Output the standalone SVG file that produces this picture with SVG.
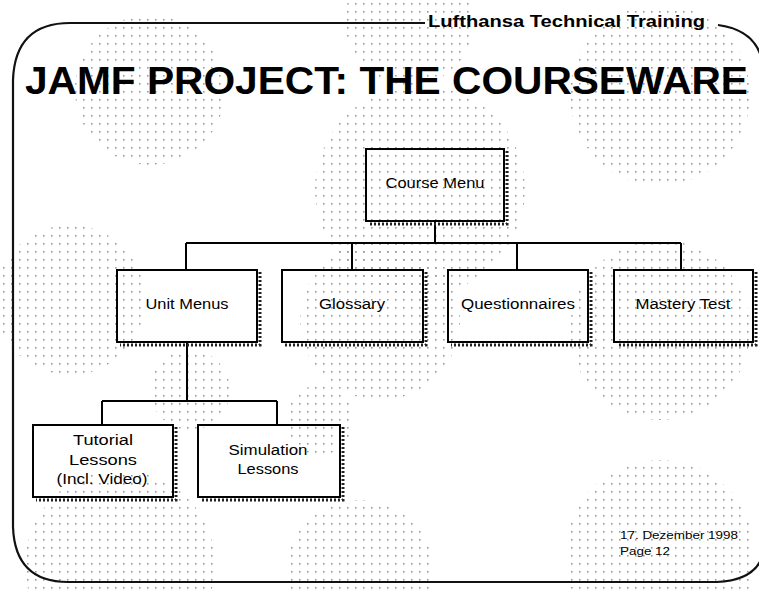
<svg xmlns="http://www.w3.org/2000/svg" width="759" height="594" viewBox="0 0 759 594">
<defs>
<pattern id="dots" x="0" y="0" width="8" height="8" patternUnits="userSpaceOnUse">
<rect x="3" y="3" width="1.6" height="1.6" fill="#999"/>
</pattern>
</defs>
<style>
.box{fill:none;stroke:#000;stroke-width:2}
.shadow{fill:none;stroke:#222;stroke-width:3;stroke-dasharray:2 2}
.lbl{font-family:"Liberation Sans",Arial,sans-serif;font-size:14px;fill:#000;text-anchor:middle}
.conn{fill:none;stroke:#000;stroke-width:2}
.frame{fill:none;stroke:#111;stroke-width:2.2}
</style>
<rect width="759" height="594" fill="#fff"/>
<g id="halftone">
<circle cx="150" cy="90" r="75" fill="url(#dots)"/>
<circle cx="410" cy="20" r="65" fill="url(#dots)"/>
<circle cx="660" cy="95" r="90" fill="url(#dots)"/>
<circle cx="420" cy="190" r="105" fill="url(#dots)"/>
<circle cx="70" cy="300" r="75" fill="url(#dots)"/>
<circle cx="380" cy="320" r="80" fill="url(#dots)"/>
<circle cx="660" cy="330" r="90" fill="url(#dots)"/>
<circle cx="120" cy="565" r="95" fill="url(#dots)"/>
<circle cx="360" cy="575" r="75" fill="url(#dots)"/>
<circle cx="660" cy="555" r="95" fill="url(#dots)"/>
<circle cx="190" cy="390" r="40" fill="url(#dots)"/>
<circle cx="320" cy="420" r="35" fill="url(#dots)"/>
</g>
<g id="frame">
<path class="frame" d="M 425 23 L 70 23 Q 15 23 13 80 L 13 527 Q 15 582 68 582 L 717 582 Q 765 580 765 540"/>
<path class="frame" d="M 718 25 Q 755 30 762 60"/>
<text x="428" y="27" font-family="'Liberation Sans',Arial,sans-serif" font-weight="bold" font-size="16" textLength="277" lengthAdjust="spacingAndGlyphs">Lufthansa Technical Training</text>
</g>
<g id="title">
<text x="25" y="94" font-family="'Liberation Sans',Arial,sans-serif" font-weight="bold" font-size="39" textLength="723" lengthAdjust="spacingAndGlyphs">JAMF PROJECT: THE COURSEWARE</text>
</g>
<g id="connectors">
<path class="conn" d="M 435 221 L 435 243 M 186 243 L 681 243 M 186 243 L 186 270 M 352 243 L 352 270 M 517 243 L 517 270 M 681 243 L 681 270"/>
<path class="conn" d="M 187 342 L 187 401 M 102 401 L 277 401 M 102 401 L 102 425 M 277 401 L 277 425"/>
</g>
<g id="course-menu">
<path class="shadow" d="M 507 151 L 507 224 L 370 224"/>
<rect class="box" x="366" y="149" width="138" height="72"/>
<text class="lbl" x="435" y="188" textLength="99" lengthAdjust="spacingAndGlyphs">Course Menu</text>
</g>
<g id="unit-menus">
<path class="shadow" d="M 260 272 L 260 345 L 120 345"/>
<rect class="box" x="117" y="270" width="140" height="72"/>
<text class="lbl" x="187" y="309" textLength="83" lengthAdjust="spacingAndGlyphs">Unit Menus</text>
</g>
<g id="glossary">
<path class="shadow" d="M 426 272 L 426 345 L 285 345"/>
<rect class="box" x="282" y="270" width="141" height="72"/>
<text class="lbl" x="352" y="309" textLength="66" lengthAdjust="spacingAndGlyphs">Glossary</text>
</g>
<g id="questionnaires">
<path class="shadow" d="M 591 272 L 591 345 L 451 345"/>
<rect class="box" x="448" y="270" width="140" height="72"/>
<text class="lbl" x="518" y="309" textLength="114" lengthAdjust="spacingAndGlyphs">Questionnaires</text>
</g>
<g id="mastery-test">
<path class="shadow" d="M 756 272 L 756 345 L 617 345"/>
<rect class="box" x="614" y="270" width="139" height="72"/>
<text class="lbl" x="683" y="309" textLength="95" lengthAdjust="spacingAndGlyphs">Mastery Test</text>
</g>
<g id="tutorial-lessons">
<path class="shadow" d="M 176 427 L 176 500 L 36 500"/>
<rect class="box" x="33" y="425" width="140" height="72"/>
<text class="lbl" x="103" y="445" textLength="60" lengthAdjust="spacingAndGlyphs">Tutorial</text>
<text class="lbl" x="103" y="465" textLength="68" lengthAdjust="spacingAndGlyphs">Lessons</text>
<text class="lbl" x="102" y="484" textLength="91" lengthAdjust="spacingAndGlyphs">(Incl. Video)</text>
</g>
<g id="simulation-lessons">
<path class="shadow" d="M 343 427 L 343 500 L 201 500"/>
<rect class="box" x="198" y="425" width="142" height="72"/>
<text class="lbl" x="268" y="455" textLength="79" lengthAdjust="spacingAndGlyphs">Simulation</text>
<text class="lbl" x="268" y="474" textLength="61" lengthAdjust="spacingAndGlyphs">Lessons</text>
</g>
<g id="footer">
<text x="620" y="539" font-family="'Liberation Sans',Arial,sans-serif" font-size="11" textLength="118" lengthAdjust="spacingAndGlyphs">17. Dezember 1998</text>
<text x="620" y="555" font-family="'Liberation Sans',Arial,sans-serif" font-size="11" textLength="50" lengthAdjust="spacingAndGlyphs">Page 12</text>
</g>
</svg>
